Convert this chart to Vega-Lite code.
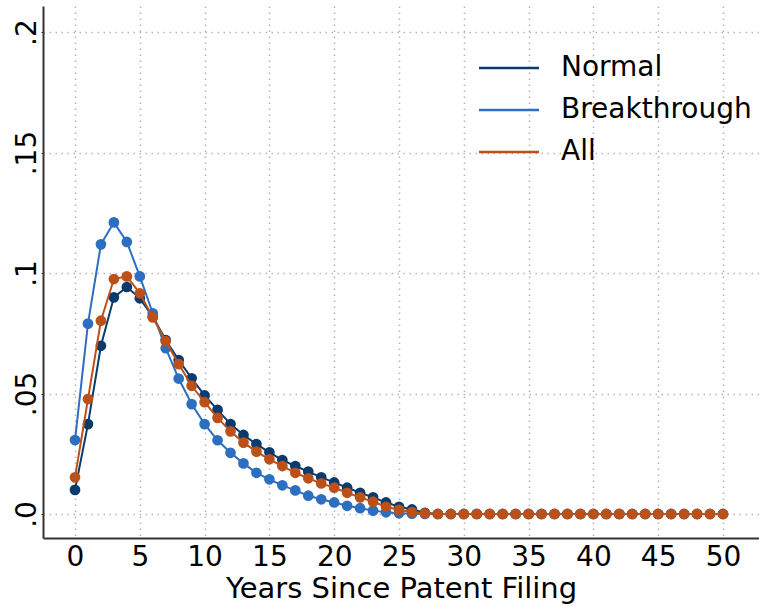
{
  "$schema": "https://vega.github.io/schema/vega-lite/v6.json",
  "autosize": {"type": "none"},
  "width": 716,
  "height": 532,
  "padding": {"left": 43, "top": 6, "right": 0, "bottom": 68},
  "background": "white",
  "config": {
    "view": {"stroke": null},
    "font": "DejaVu Sans",
    "axis": {
      "labelFont": "DejaVu Sans",
      "titleFont": "DejaVu Sans",
      "labelColor": "black",
      "titleColor": "black",
      "domainColor": "#333333",
      "domainWidth": 2,
      "gridColor": "#b4b4b4",
      "gridWidth": 1.5,
      "gridDash": [1.5, 4.5]
    }
  },
  "data": {
    "values": [
      {"year": 0, "Normal": 0.0100, "Breakthrough": 0.0307, "All": 0.0152},
      {"year": 1, "Normal": 0.0373, "Breakthrough": 0.0790, "All": 0.0477},
      {"year": 2, "Normal": 0.0698, "Breakthrough": 0.1119, "All": 0.0802},
      {"year": 3, "Normal": 0.0899, "Breakthrough": 0.1210, "All": 0.0975},
      {"year": 4, "Normal": 0.0942, "Breakthrough": 0.1129, "All": 0.0986},
      {"year": 5, "Normal": 0.0895, "Breakthrough": 0.0986, "All": 0.0916},
      {"year": 6, "Normal": 0.0819, "Breakthrough": 0.0833, "All": 0.0816},
      {"year": 7, "Normal": 0.0722, "Breakthrough": 0.0688, "All": 0.0717},
      {"year": 8, "Normal": 0.0639, "Breakthrough": 0.0562, "All": 0.0622},
      {"year": 9, "Normal": 0.0563, "Breakthrough": 0.0456, "All": 0.0532},
      {"year": 10, "Normal": 0.0492, "Breakthrough": 0.0373, "All": 0.0464},
      {"year": 11, "Normal": 0.0432, "Breakthrough": 0.0306, "All": 0.0399},
      {"year": 12, "Normal": 0.0373, "Breakthrough": 0.0254, "All": 0.0343},
      {"year": 13, "Normal": 0.0328, "Breakthrough": 0.0210, "All": 0.0296},
      {"year": 14, "Normal": 0.0290, "Breakthrough": 0.0171, "All": 0.0259},
      {"year": 15, "Normal": 0.0256, "Breakthrough": 0.0144, "All": 0.0227},
      {"year": 16, "Normal": 0.0224, "Breakthrough": 0.0119, "All": 0.0199},
      {"year": 17, "Normal": 0.0199, "Breakthrough": 0.0098, "All": 0.0171},
      {"year": 18, "Normal": 0.0176, "Breakthrough": 0.0076, "All": 0.0148},
      {"year": 19, "Normal": 0.0152, "Breakthrough": 0.0061, "All": 0.0127},
      {"year": 20, "Normal": 0.0131, "Breakthrough": 0.0048, "All": 0.0109},
      {"year": 21, "Normal": 0.0109, "Breakthrough": 0.0034, "All": 0.0088},
      {"year": 22, "Normal": 0.0088, "Breakthrough": 0.0024, "All": 0.0069},
      {"year": 23, "Normal": 0.0069, "Breakthrough": 0.0014, "All": 0.0051},
      {"year": 24, "Normal": 0.0048, "Breakthrough": 0.0007, "All": 0.0030},
      {"year": 25, "Normal": 0.0030, "Breakthrough": 0.0003, "All": 0.0017},
      {"year": 26, "Normal": 0.0019, "Breakthrough": 0.0001, "All": 0.0008},
      {"year": 27, "Normal": 0.0005, "Breakthrough": 0, "All": 0.0003},
      {"year": 28, "Normal": 0, "Breakthrough": 0, "All": 0},
      {"year": 29, "Normal": 0, "Breakthrough": 0, "All": 0},
      {"year": 30, "Normal": 0, "Breakthrough": 0, "All": 0},
      {"year": 31, "Normal": 0, "Breakthrough": 0, "All": 0},
      {"year": 32, "Normal": 0, "Breakthrough": 0, "All": 0},
      {"year": 33, "Normal": 0, "Breakthrough": 0, "All": 0},
      {"year": 34, "Normal": 0, "Breakthrough": 0, "All": 0},
      {"year": 35, "Normal": 0, "Breakthrough": 0, "All": 0},
      {"year": 36, "Normal": 0, "Breakthrough": 0, "All": 0},
      {"year": 37, "Normal": 0, "Breakthrough": 0, "All": 0},
      {"year": 38, "Normal": 0, "Breakthrough": 0, "All": 0},
      {"year": 39, "Normal": 0, "Breakthrough": 0, "All": 0},
      {"year": 40, "Normal": 0, "Breakthrough": 0, "All": 0},
      {"year": 41, "Normal": 0, "Breakthrough": 0, "All": 0},
      {"year": 42, "Normal": 0, "Breakthrough": 0, "All": 0},
      {"year": 43, "Normal": 0, "Breakthrough": 0, "All": 0},
      {"year": 44, "Normal": 0, "Breakthrough": 0, "All": 0},
      {"year": 45, "Normal": 0, "Breakthrough": 0, "All": 0},
      {"year": 46, "Normal": 0, "Breakthrough": 0, "All": 0},
      {"year": 47, "Normal": 0, "Breakthrough": 0, "All": 0},
      {"year": 48, "Normal": 0, "Breakthrough": 0, "All": 0},
      {"year": 49, "Normal": 0, "Breakthrough": 0, "All": 0},
      {"year": 50, "Normal": 0, "Breakthrough": 0, "All": 0}
    ]
  },
  "transform": [
    {"fold": ["Normal", "Breakthrough", "All"], "as": ["series", "share"]}
  ],
  "encoding": {
    "x": {
      "field": "year",
      "type": "quantitative",
      "scale": {"domain": [-2.47, 52.78], "nice": false, "zero": false},
      "axis": {
        "values": [0, 5, 10, 15, 20, 25, 30, 35, 40, 45, 50],
        "title": "Years Since Patent Filing",
        "titleFontSize": 29,
        "titleFontWeight": "normal",
        "titlePadding": 3,
        "labelFontSize": 28,
        "labelPadding": 5,
        "ticks": false,
        "grid": true,
        "labelFlush": false,
        "labelOverlap": false
      }
    },
    "y": {
      "field": "share",
      "type": "quantitative",
      "scale": {"domain": [-0.00996, 0.2108], "nice": false, "zero": false},
      "axis": {
        "values": [0, 0.05, 0.1, 0.15, 0.2],
        "title": null,
        "labelExpr": "datum.value == 0 ? '.0' : replace(format(datum.value, '.2~f'), '0.', '.')",
        "labelAngle": -90,
        "labelAlign": "center",
        "labelBaseline": "alphabetic",
        "labelFontSize": 28,
        "labelPadding": 6,
        "tickSize": 2,
        "tickColor": "#333333",
        "grid": true,
        "labelFlush": false,
        "labelOverlap": false
      }
    },
    "color": {
      "field": "series",
      "type": "nominal",
      "scale": {"domain": ["Normal", "Breakthrough", "All"], "range": ["#0b3a6c", "#2c6ec0", "#bb5018"]},
      "legend": {
        "orient": "none",
        "legendX": 452,
        "legendY": 48,
        "title": null,
        "padding": 0,
        "symbolType": "M-3,0H3",
        "symbolSize": 400,
        "symbolStrokeWidth": 2.5,
        "labelFontSize": 28,
        "labelFont": "DejaVu Sans",
        "labelColor": "black",
        "labelLimit": 0,
        "labelOffset": 38,
        "rowPadding": 14,
        "encode": {
          "symbols": {
            "update": {
              "stroke": {"scale": "color", "field": "value"},
              "fill": {"value": "transparent"},
              "strokeWidth": {"value": 2.5}
            }
          }
        }
      }
    }
  },
  "layer": [
    {
      "transform": [{"filter": "datum.series == 'Normal'"}],
      "layer": [
        {"mark": {"type": "line", "strokeWidth": 2}},
        {"mark": {"type": "point", "filled": true, "size": 115, "opacity": 1}}
      ]
    },
    {
      "transform": [{"filter": "datum.series == 'Breakthrough'"}],
      "layer": [
        {"mark": {"type": "line", "strokeWidth": 2}},
        {"mark": {"type": "point", "filled": true, "size": 115, "opacity": 1}}
      ]
    },
    {
      "transform": [{"filter": "datum.series == 'All'"}],
      "layer": [
        {"mark": {"type": "line", "strokeWidth": 2}},
        {"mark": {"type": "point", "filled": true, "size": 115, "opacity": 1}}
      ]
    }
  ]
}
